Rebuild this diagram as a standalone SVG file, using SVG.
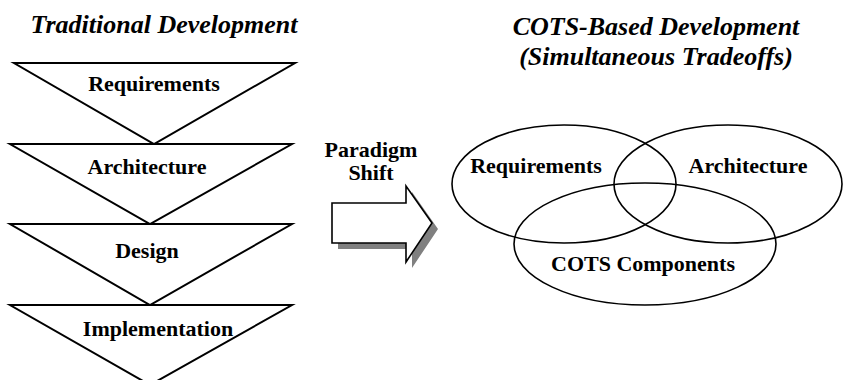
<svg xmlns="http://www.w3.org/2000/svg" width="843" height="380" viewBox="0 0 843 380">
<style>
.lbl{font-family:"Liberation Serif","Times New Roman",serif;font-weight:bold;font-size:22px;fill:#000;text-anchor:middle}
.ttl{font-family:"Liberation Serif","Times New Roman",serif;font-weight:bold;font-style:italic;font-size:26px;fill:#000;text-anchor:middle}
.tri{fill:#fff;stroke:#000;stroke-width:2}
.ell{fill:none;stroke:#000;stroke-width:1.6}
</style>
<rect width="843" height="380" fill="#fff"/>
<text class="ttl" x="164" y="33">Traditional Development</text>
<text class="ttl" x="656" y="35">COTS-Based Development</text>
<text class="ttl" x="656" y="65">(Simultaneous Tradeoffs)</text>
<g id="req-stage"><polygon class="tri" points="14,63 295,63 154,144"/><text class="lbl" x="154" y="91">Requirements</text></g>
<g id="arch-stage"><polygon class="tri" points="10,144 292,144 150,224"/><text class="lbl" x="147" y="174">Architecture</text></g>
<g id="design-stage"><polygon class="tri" points="10,224 292,224 150,305"/><text class="lbl" x="147" y="258">Design</text></g>
<g id="impl-stage"><polygon class="tri" points="10,305 292,305 150,385"/><text class="lbl" x="158" y="336">Implementation</text></g>
<g id="shift">
<polygon points="338,209 412,209 412,192 438,229 412,268 412,249 338,249" fill="#808080"/>
<polygon points="332,203 406,203 406,186 432,223 406,262 406,243 332,243" fill="#fff" stroke="#000" stroke-width="1.6"/>
<text class="lbl" x="371" y="157">Paradigm</text>
<text class="lbl" x="371" y="180">Shift</text>
</g>
<g id="connectors"></g>
<g id="req-set"><ellipse class="ell" cx="564" cy="184" rx="112" ry="59"/><text class="lbl" x="536" y="173">Requirements</text></g>
<g id="arch-set"><ellipse class="ell" cx="728" cy="184" rx="114" ry="59"/><text class="lbl" x="748" y="173">Architecture</text></g>
<g id="cots-set"><ellipse class="ell" cx="645" cy="244" rx="131" ry="61"/><text class="lbl" x="643" y="271">COTS Components</text></g>
</svg>
